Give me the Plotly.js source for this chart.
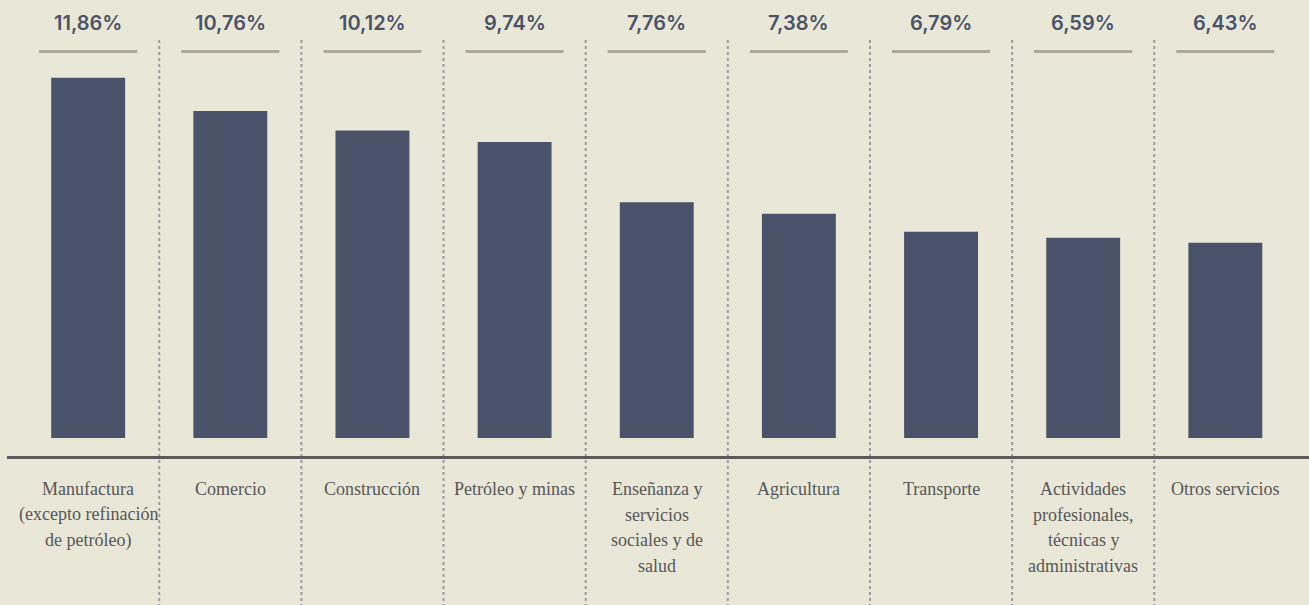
<!DOCTYPE html>
<html>
<head>
<meta charset="utf-8">
<script src="https://cdn.plot.ly/plotly-3.0.1.min.js"></script>
<style>html,body{margin:0;padding:0;background:#e9e8d8;}#chart{width:1309px;height:605px;}</style>
</head>
<body>
<div id="chart"></div>
<script>
const categories = [
  "Manufactura<br>(excepto refinación<br>de petróleo)",
  "Comercio",
  "Construcción",
  "Petróleo y minas",
  "Enseñanza y<br>servicios<br>sociales y de<br>salud",
  "Agricultura",
  "Transporte",
  "Actividades<br>profesionales,<br>técnicas y<br>administrativas",
  "Otros servicios"
];
const values = [11.86, 10.76, 10.12, 9.74, 7.76, 7.38, 6.79, 6.59, 6.43];

const W = 1309, H = 605;
const py = px => (H - px) / H;   // pixel-from-top to paper y
const idx = categories.map((_, i) => i);

const barColor = '#4b536b';
const annotations = [];
const shapes = [];

idx.forEach(i => {
  // value label
  annotations.push({
    x: i, xref: 'x', y: py(23), yref: 'paper',
    text: values[i].toFixed(2).replace('.', ',') + '%',
    showarrow: false, xanchor: 'center', yanchor: 'middle',
    font: {family: 'Inter, "Open Sans", sans-serif', size: 20, color: '#4b5369', weight: 600}
  });
  // underline
  shapes.push({
    type: 'line', xref: 'x', yref: 'paper',
    x0: i - 0.345, x1: i + 0.345, y0: py(51.5), y1: py(51.5),
    line: {color: '#adaa9c', width: 3}
  });
  // category label lines
  categories[i].split('<br>').forEach((line, k) => {
    annotations.push({
      x: i, xref: 'x', y: py(489 + 25.5 * k), yref: 'paper',
      text: line, showarrow: false, xanchor: 'center', yanchor: 'middle',
      font: {family: '"Liberation Serif", "DejaVu Serif", serif', size: 18, color: '#575757'}
    });
  });
  // separators
  if (i < categories.length - 1) {
    shapes.push({
      type: 'line', xref: 'x', yref: 'paper',
      x0: i + 0.5, x1: i + 0.5, y0: py(40), y1: 0,
      line: {color: '#9c9c9c', width: 2, dash: 'dot'}
    });
  }
});

// axis baseline
shapes.push({
  type: 'line', xref: 'paper', yref: 'paper',
  x0: 7 / W, x1: 1, y0: py(457.5), y1: py(457.5),
  line: {color: '#5a5a5a', width: 3}
});

const trace = {
  type: 'bar',
  x: idx,
  y: values,
  width: 0.52,
  marker: {color: barColor, line: {width: 0}},
  hoverinfo: 'skip'
};

const layout = {
  width: W, height: H,
  margin: {l: 0, r: 0, t: 0, b: 0},
  paper_bgcolor: '#e9e8d8',
  plot_bgcolor: 'rgba(0,0,0,0)',
  showlegend: false,
  xaxis: {
    domain: [17.1 / W, 1296.4 / W],
    range: [-0.5, 8.5],
    showticklabels: false, showgrid: false, zeroline: false, showline: false, ticks: ''
  },
  yaxis: {
    domain: [py(438), py(73.4)],
    range: [0, 12],
    showticklabels: false, showgrid: false, zeroline: false, showline: false, ticks: ''
  },
  annotations: annotations,
  shapes: shapes
};

Plotly.newPlot('chart', [trace], layout, {displayModeBar: false, staticPlot: true});
</script>
</body>
</html>
